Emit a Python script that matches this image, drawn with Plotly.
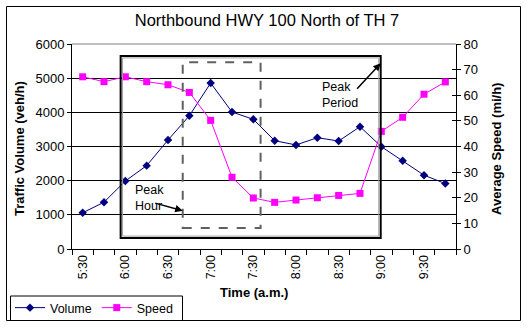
import plotly.graph_objects as go

times = ["5:30", "5:45", "6:00", "6:15", "6:30", "6:45", "7:00", "7:15", "7:30",
         "7:45", "8:00", "8:15", "8:30", "8:45", "9:00", "9:15", "9:30", "9:45"]
tick_labels = [t if i % 2 == 0 else "" for i, t in enumerate(times)]
volume = [1060, 1370, 1990, 2440, 3190, 3900, 4858, 4010, 3795,
          3170, 3045, 3258, 3160, 3580, 2995, 2585, 2160, 1915]
speed = [67.2, 65.3, 67.2, 65.3, 64.1, 61.1, 50.2, 28.0, 19.9,
         18.2, 19.1, 20.0, 20.9, 21.7, 45.9, 51.4, 60.4, 65.2]

FONT = "Arial, Liberation Sans, sans-serif"
W, H = 528, 328
L, R, T, B = 72, 72, 44, 79
pw, ph = W - L - R, H - T - B

def px(x):
    return (x - L) / pw

def py(y):
    return (H - B - y) / ph

fig = go.Figure()
fig.add_trace(go.Scatter(
    x=times, y=volume, name="Volume", mode="lines+markers",
    line=dict(color="#000080", width=1),
    marker=dict(symbol="diamond", size=6.5, color="#000080"),
    yaxis="y"))
fig.add_trace(go.Scatter(
    x=times, y=speed, name="Speed", mode="lines+markers",
    line=dict(color="#FF00FF", width=1),
    marker=dict(symbol="square", size=7, color="#FF00FF"),
    yaxis="y2"))
# invisible trace to host the inside-tick axis on the right
fig.add_trace(go.Scatter(x=times, y=speed, yaxis="y3", mode="none",
                         showlegend=False, hoverinfo="skip"))

axis_font = dict(family=FONT, size=13, color="black")

fig.update_layout(
    width=W, height=H,
    margin=dict(l=L, r=R, t=T, b=B, autoexpand=False),
    paper_bgcolor="white", plot_bgcolor="white",
    font=dict(family=FONT, size=12, color="black"),
    title=dict(text="Northbound HWY 100 North of TH 7",
               x=267 / W, xanchor="center", y=1 - 20 / H, yanchor="middle",
               font=dict(family=FONT, size=16.5, color="black")),
    xaxis=dict(type="category", tickmode="array", tickvals=times, ticktext=tick_labels,
               tickson="boundaries", ticks="outside", ticklen=5, tickcolor="black",
               tickangle=-90, tickfont=dict(family=FONT, size=12.5, color="black"),
               showline=True, linecolor="black", automargin=False,
               linewidth=1, showgrid=False, range=[-0.5, 17.5], zeroline=False),
    yaxis=dict(range=[0, 6000], dtick=1000, tick0=0, showgrid=True, gridcolor="black",
               gridwidth=1, showline=True, linecolor="black", linewidth=1,
               ticks="outside", ticklen=4, tickcolor="black", tickfont=axis_font,
               zeroline=False, automargin=False),
    yaxis2=dict(range=[0, 80], dtick=10, tick0=0, overlaying="y", side="right",
                showgrid=False, showline=True, linecolor="black", linewidth=1,
                ticks="outside", ticklen=4, tickcolor="black", tickfont=axis_font,
                zeroline=False, automargin=False),
    yaxis3=dict(range=[0, 80], dtick=10, tick0=0, overlaying="y", side="right",
                showgrid=False, showline=False, ticks="inside", ticklen=4,
                tickcolor="black", showticklabels=False, zeroline=False,
                automargin=False),
    legend=dict(orientation="h", xref="container", yref="container",
                x=10 / W, y=1 - 293 / H, xanchor="left", yanchor="top",
                borderwidth=0, bgcolor="rgba(0,0,0,0)",
                font=dict(family=FONT, size=12.5, color="black"),
                itemwidth=30, tracegroupgap=0),
    showlegend=True,
)

shapes = []
# top border of plot area (gray)
shapes.append(dict(type="line", xref="paper", yref="paper", x0=0, x1=1, y0=1, y1=1,
                   line=dict(color="#808080", width=1), layer="above"))
# outer chart border
shapes.append(dict(type="rect", xref="paper", yref="paper",
                   x0=px(6.5), x1=px(520.5), y0=py(320.5), y1=py(6.5),
                   line=dict(color="black", width=1), layer="above"))
# legend frame
shapes.append(dict(type="rect", xref="paper", yref="paper",
                   x0=px(10.5), x1=px(182.5), y0=py(320.5), y1=py(296),
                   line=dict(color="black", width=1), layer="above"))
# Peak period box (black with thin gray inner edge)
shapes.append(dict(type="rect", xref="x", yref="y", x0=1.78, x1=13.97,
                   y0=322, y1=5648, line=dict(color="black", width=2), layer="above"))
shapes.append(dict(type="rect", xref="x", yref="y", x0=1.78 + 0.09, x1=13.97 - 0.09,
                   y0=322 + 55, y1=5648 - 55, line=dict(color="#A0A0A0", width=1),
                   layer="above"))
# Peak hour box (dashed)
shapes.append(dict(type="rect", xref="x", yref="y", x0=4.69, x1=8.34, y0=615, y1=5465,
                   line=dict(color="#606060", width=2, dash="dash"), layer="above"))
fig.update_layout(shapes=shapes)

ann = []
ann.append(dict(text="Traffic Volume (veh/h)", xref="paper", yref="paper",
                x=px(19), y=py(149), textangle=-90, showarrow=False,
                font=dict(family=FONT, size=13, color="black", weight="bold"),
                xanchor="center", yanchor="middle"))
ann.append(dict(text="Average Speed (mi/h)", xref="paper", yref="paper",
                x=px(496), y=py(149), textangle=-90, showarrow=False,
                font=dict(family=FONT, size=13, color="black", weight="bold"),
                xanchor="center", yanchor="middle"))
ann.append(dict(text="Time (a.m.)", xref="paper", yref="paper",
                x=px(254), y=py(292), showarrow=False,
                font=dict(family=FONT, size=13, color="black", weight="bold"),
                xanchor="center", yanchor="middle"))
# Peak Period label and arrow
ann.append(dict(text="Peak<br>Period", xref="paper", yref="paper", x=px(320), y=py(95),
                xanchor="left", yanchor="middle", align="left", showarrow=False,
                font=dict(family=FONT, size=12.5, color="black")))
ann.append(dict(text="", xref="x", yref="y", x=13.97, y=5436, ax=-25, ay=27,
                showarrow=True, arrowhead=2, arrowsize=1, arrowwidth=1.5,
                arrowcolor="black"))
# Peak Hour label and arrow
ann.append(dict(text="Peak<br>Hour", xref="paper", yref="paper", x=px(133), y=py(198),
                xanchor="left", yanchor="middle", align="left", showarrow=False,
                font=dict(family=FONT, size=12.5, color="black")))
ann.append(dict(text="", xref="x", yref="y", x=4.69, y=1121, ax=-29, ay=-8,
                showarrow=True, arrowhead=2, arrowsize=1, arrowwidth=1.5,
                arrowcolor="black"))
fig.update_layout(annotations=ann)

fig.write_html("out.html")
